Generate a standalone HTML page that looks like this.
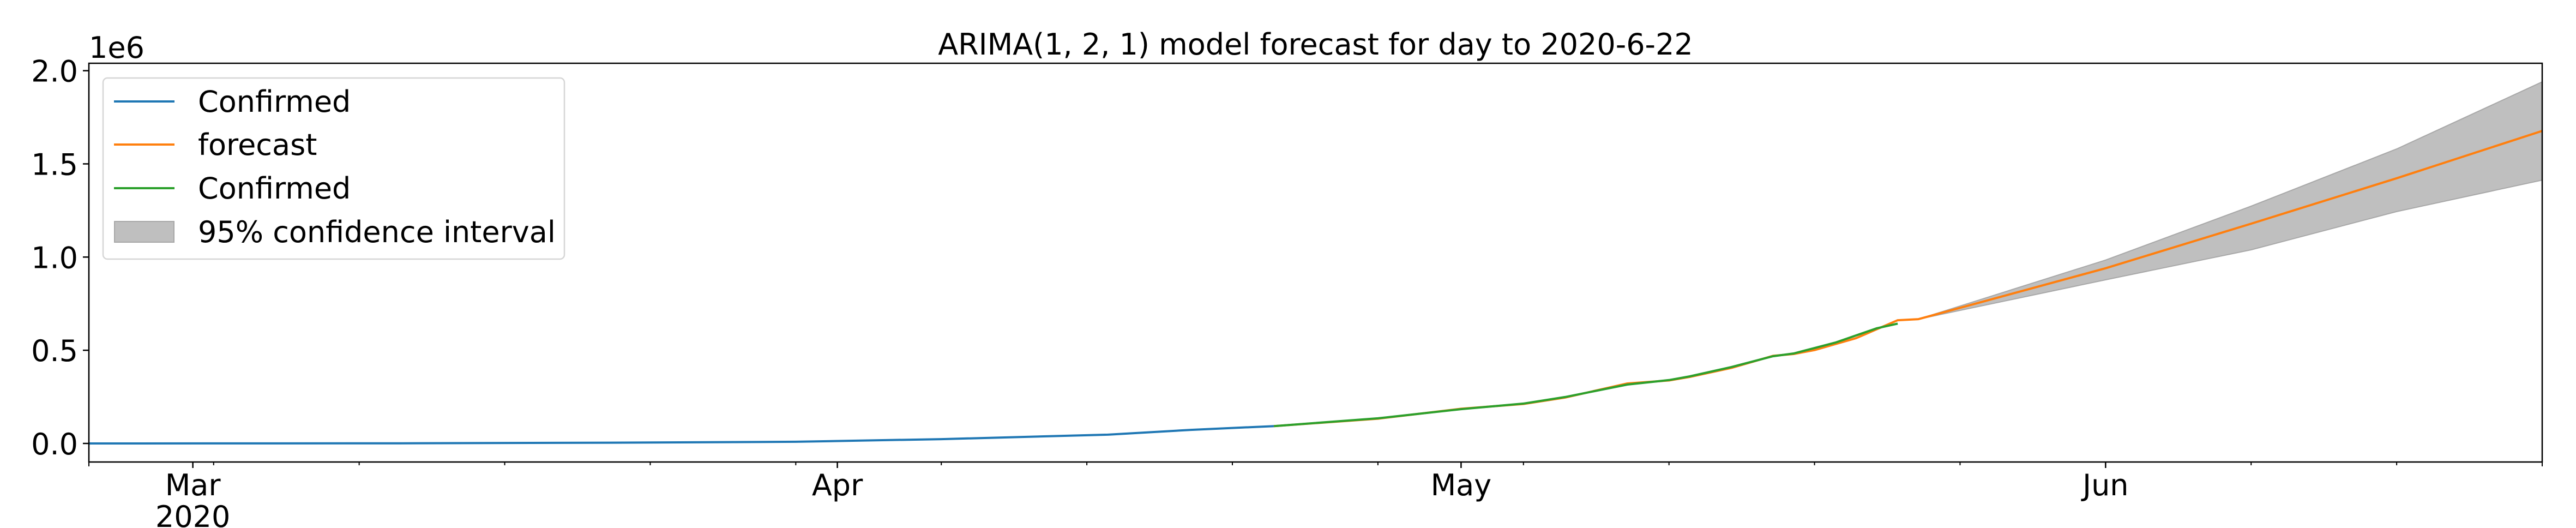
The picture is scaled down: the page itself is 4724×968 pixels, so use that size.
<!DOCTYPE html>
<html><head><meta charset="utf-8">
<style>
html,body{margin:0;padding:0;background:#fff;}
svg{display:block;font-family:"DejaVu Sans","Liberation Sans",sans-serif;}
</style></head>
<body>
<svg id="chart" width="4724" height="968" viewBox="0 0 4724 968" xmlns="http://www.w3.org/2000/svg">
<rect x="0" y="0" width="4724" height="968" fill="#fff"/>
<g id="plot"></g>
</svg>
<script>
const startDate = "2020-02-25";
const endDate = "2020-06-22";
const yTicks = [0, 0.5, 1.0, 1.5, 2.0];
const yTickLabels = ["0.0", "0.5", "1.0", "1.5", "2.0"];
const monthTicks = ["2020-03-01", "2020-04-01", "2020-05-01", "2020-06-01"];
const monthLabels = ["Mar", "Apr", "May", "Jun"];
const confirmedDates = ["2020-02-25","2020-03-11","2020-03-21","2020-03-30","2020-04-06","2020-04-14","2020-04-18","2020-04-22"];
const confirmedValues = [0, 0.001, 0.004, 0.009, 0.023, 0.047, 0.073, 0.093];
const greenDates = ["2020-04-22","2020-04-27","2020-05-01","2020-05-04","2020-05-06","2020-05-09","2020-05-11","2020-05-12","2020-05-14","2020-05-16","2020-05-17","2020-05-19","2020-05-21","2020-05-22"];
const greenValues = [0.093,0.135,0.184,0.214,0.249,0.316,0.340,0.360,0.410,0.468,0.483,0.541,0.618,0.643];
const forecastDates = ["2020-04-22","2020-04-27","2020-05-01","2020-05-04","2020-05-06","2020-05-09","2020-05-11","2020-05-12","2020-05-14","2020-05-16","2020-05-17","2020-05-18","2020-05-20","2020-05-22","2020-05-23","2020-06-01","2020-06-08","2020-06-15","2020-06-22"];
const forecastValues = [0.093,0.133,0.186,0.212,0.246,0.322,0.338,0.357,0.405,0.470,0.480,0.501,0.565,0.661,0.667,0.940,1.179,1.423,1.677];
const ciDates = ["2020-05-23","2020-06-01","2020-06-08","2020-06-15","2020-06-22"];
const ciUpper = [0.667, 0.984, 1.273, 1.580, 1.940];
const ciLower = [0.667, 0.878, 1.039, 1.244, 1.413];

const NS = "http://www.w3.org/2000/svg";
const plot = document.getElementById('plot');
const L = 163, R = 4662, T = 116, B = 847;
const day = s => Date.parse(s + "T00:00:00Z") / 86400000;
const d0 = day(startDate), d1 = day(endDate);
const xS = s => L + (day(s) - d0) / (d1 - d0) * (R - L);
const yS = v => 813 - v * 341.7;
function mk(tag, attrs, parent) {
  const e = document.createElementNS(NS, tag);
  for (const k in attrs) e.setAttribute(k, attrs[k]);
  (parent || plot).appendChild(e);
  return e;
}
function pts(ds, vs) { return ds.map((d, i) => xS(d).toFixed(1) + "," + yS(vs[i]).toFixed(1)).join(" "); }

let band = pts(ciDates, ciUpper) + " " + ciDates.slice().reverse().map((d, i) => xS(d).toFixed(1) + "," + yS(ciLower[ciLower.length - 1 - i]).toFixed(1)).join(" ");
const ci = mk('polygon', {points: band, fill: '#bfbfbf', stroke: '#a8a8a8', 'stroke-width': 2});



const blue = mk('polyline', {points: pts(confirmedDates, confirmedValues), fill: 'none', stroke: '#1f77b4', 'stroke-width': 4, 'stroke-linejoin': 'round'});


const orange = mk('polyline', {points: pts(forecastDates, forecastValues), fill: 'none', stroke: '#ff7f0e', 'stroke-width': 4, 'stroke-linejoin': 'round'});


const green = mk('polyline', {points: pts(greenDates, greenValues), fill: 'none', stroke: '#2ca02c', 'stroke-width': 4, 'stroke-linejoin': 'round'});



const fr = mk('rect', {x: L, y: T, width: R - L, height: B - T, fill: 'none', stroke: '#000', 'stroke-width': 2.5});



yTicks.forEach((v, i) => {
  const y = yS(v);
  const t = mk('line', {x1: L - 11, x2: L, y1: y, y2: y, stroke: '#000', 'stroke-width': 2.5});
  
  
  const tx = mk('text', {x: L - 20, y: y + 20, 'font-size': 54, 'text-anchor': 'end', fill: '#000'});
  
  
  tx.textContent = yTickLabels[i];
});
const ex = mk('text', {x: L, y: 106, 'font-size': 54, fill: '#000'});


ex.textContent = "1e6";

for (let d = day("2020-03-02"); d <= d1; d += 7) {
  const x = L + (d - d0) / (d1 - d0) * (R - L);
  const m = mk('line', {x1: x, x2: x, y1: B, y2: B + 6, stroke: '#000', 'stroke-width': 2});
  
  
}
[L, R].forEach(x => {
  const m = mk('line', {x1: x, x2: x, y1: B, y2: B + 8, stroke: '#000', 'stroke-width': 2});
  
  
});
monthTicks.forEach((d, i) => {
  const x = xS(d);
  const t = mk('line', {x1: x, x2: x, y1: B, y2: B + 11, stroke: '#000', 'stroke-width': 2.5});
  
  
  const tx = mk('text', {x: x, y: 908, 'font-size': 54, 'text-anchor': 'middle', fill: '#000'});
  
  
  tx.textContent = monthLabels[i];
});
const yr = mk('text', {x: xS(monthTicks[0]), y: 966, 'font-size': 54, 'text-anchor': 'middle', fill: '#000'});


yr.textContent = "2020";

const title = mk('text', {x: (L + R) / 2, y: 100, 'font-size': 54, 'text-anchor': 'middle', fill: '#000'});


title.textContent = "ARIMA(1, 2, 1) model forecast for day to 2020-6-22";

const lg = mk('g', {});


const lb = mk('rect', {x: 189, y: 143, width: 846, height: 332, rx: 8, fill: '#fff', 'fill-opacity': 0.8, stroke: '#d6d6d6', 'stroke-width': 2.5}, lg);


const entries = [["Confirmed", "#1f77b4", 186], ["forecast", "#ff7f0e", 265], ["Confirmed", "#2ca02c", 345], ["95% confidence interval", null, 425]];
entries.forEach(e => {
  const g = mk('g', {}, lg);
  
  
  if (e[1]) {
    mk('line', {x1: 209, x2: 320, y1: e[2], y2: e[2], stroke: e[1], 'stroke-width': 4}, g);
  } else {
    mk('rect', {x: 210, y: e[2] - 19, width: 109, height: 38, fill: '#bfbfbf', stroke: '#a8a8a8', 'stroke-width': 2}, g);
  }
  const t = mk('text', {x: 363, y: e[2] + 19, 'font-size': 54, fill: '#000'}, g);
  t.textContent = e[0];
});
</script>
</body></html>
